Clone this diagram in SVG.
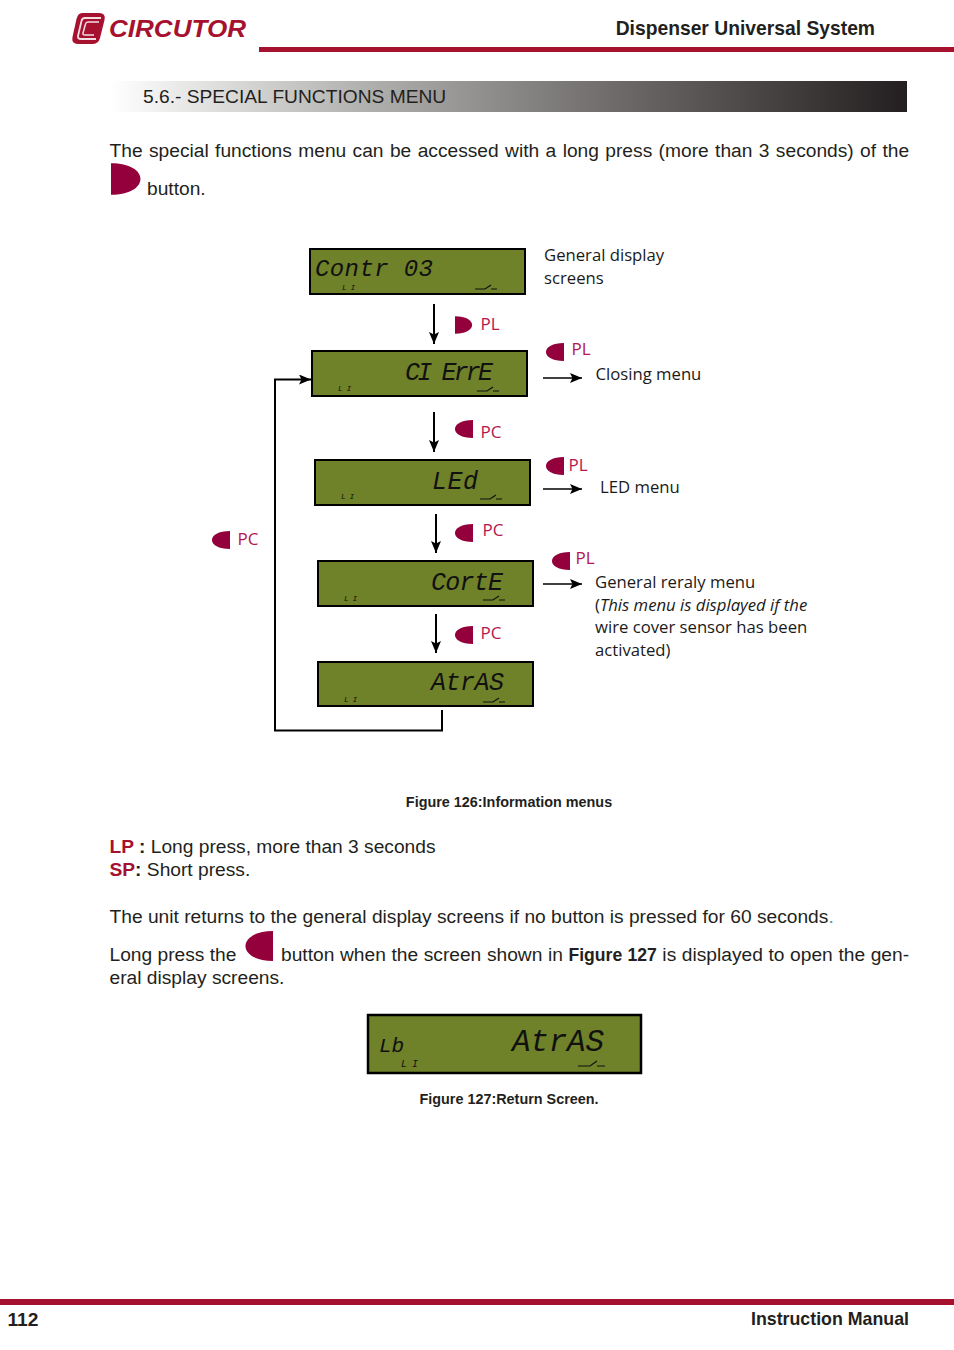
<svg xmlns="http://www.w3.org/2000/svg" width="954" height="1350" viewBox="0 0 954 1350">
<style>
.b{font-family:"Liberation Sans",Arial,sans-serif;font-size:19.2px;fill:#231f20}
.s{font-family:"Open Sans","Noto Sans",sans-serif;font-size:16.7px;fill:#1a1a1a}
.k{font-family:"Open Sans","Noto Sans",sans-serif;font-size:17px;fill:#b5174f}
.cap{font-family:"Liberation Sans",Arial,sans-serif;font-size:14.4px;font-weight:700;fill:#231f20}
.lcd{fill:#6f8129;stroke:#000;stroke-width:2}
.t{font-family:"Liberation Mono",monospace;font-style:italic;font-size:25px;fill:#111}
.m{font-family:"Liberation Mono",monospace;font-style:italic;font-size:8px;fill:#111;letter-spacing:-.5px}
.sw{fill:none;stroke:#111;stroke-width:1.2}
.l{fill:none;stroke:#000;stroke-width:2}
.cr{fill:#93003c}
.r{fill:#a6112f}
</style>
<defs>
<linearGradient id="g" x1="0" x2="1" y1="0" y2="0"><stop offset="0" stop-color="#fff"/><stop offset=".3" stop-color="#b5b5b3"/><stop offset=".65" stop-color="#6a6766"/><stop offset="1" stop-color="#231f20"/></linearGradient>
<marker id="a" markerUnits="userSpaceOnUse" markerWidth="14" markerHeight="12" refX="12" refY="5" orient="auto"><path d="M0 0L12 5L0 10L2.500 5Z" fill="#000"/></marker>
<path id="R" d="M0-15C12-15 19-8 19 0C19 8 12 15 0 15Z"/>
<path id="Lf" d="M0-15C-12-15-19-8-19 0C-19 8-12 15 0 15Z"/>
</defs>
<g id="header">
<g id="logo"><path d="M82 13H99Q106 13 104.500 20L100 38Q98.500 44 92 44H78Q71 44 72.500 37L76.500 19Q78 13 82 13Z" fill="#a6112f"/>
<path d="M101 18H85Q82 18 81.500 21L78 36Q77.500 39 81 39H96" fill="none" stroke="#f3dfe3" stroke-width="1.800"/><path d="M99 22H88Q86 22 85.500 24L83 33Q82.500 35 85 35H94" fill="none" stroke="#f3dfe3" stroke-width="1.500"/>
<text x="109" y="37" font-family="Liberation Sans,sans-serif" font-size="24" font-weight="700" font-style="italic" fill="#a6112f" textLength="137" lengthAdjust="spacingAndGlyphs">CIRCUTOR</text></g>
<rect x="259" y="47" width="695" height="5" class="r"/>
<text x="875" y="35" text-anchor="end" font-family="Liberation Sans,sans-serif" font-size="19.300" font-weight="700" fill="#231f20">Dispenser Universal System</text>
</g>
<g id="title"><rect x="110" y="81" width="797" height="31" fill="url(#g)"/>
<text x="143" y="103" class="b">5.6.- SPECIAL FUNCTIONS MENU</text></g>
<g id="intro">
<text x="109.500" y="157" class="b" style="word-spacing:1.050px">The special functions menu can be accessed with a long press (more than 3 seconds) of the</text>
<use href="#R" transform="translate(111 179) scale(1.550 1.050)" class="cr"/>
<text x="147" y="195" class="b">button.</text>
</g>
<g id="connectors">
<path class="l" d="M434 304V344" marker-end="url(#a)"/>
<path class="l" d="M434 412V452" marker-end="url(#a)"/>
<path class="l" d="M436 514V553" marker-end="url(#a)"/>
<path class="l" d="M436 614V653" marker-end="url(#a)"/>
<path class="l" d="M442 710V730.500H275V379.500H311" marker-end="url(#a)"/>
<path class="l" style="stroke-width:1.500" d="M543 378H582" marker-end="url(#a)"/>
<path class="l" style="stroke-width:1.500" d="M543 489H582" marker-end="url(#a)"/>
<path class="l" style="stroke-width:1.500" d="M543 584H582" marker-end="url(#a)"/>
</g>
<g id="lcd1"><rect x="310" y="249" width="215" height="45" class="lcd"/><text x="315" y="276" class="t" style="font-size:24px" textLength="118">Contr 03</text><text x="342" y="290" class="m">L I</text><path class="sw" d="M475 289H485L491 285M491 289H497"/></g>
<g id="lcd2"><rect x="312" y="351" width="215" height="45" class="lcd"/><text x="405" y="380" class="t" textLength="88">CI ErrE</text><text x="338" y="391" class="m">L I</text><path class="sw" d="M477 391H487L493 387M493 391H499"/></g>
<g id="lcd3"><rect x="315" y="460" width="215" height="45" class="lcd"/><text x="432" y="489" class="t" textLength="46">LEd</text><text x="341" y="499" class="m">L I</text><path class="sw" d="M480 499H490L496 495M496 499H502"/></g>
<g id="lcd4"><rect x="318" y="561" width="215" height="45" class="lcd"/><text x="431" y="590" class="t" textLength="72">CortE</text><text x="344" y="601" class="m">L I</text><path class="sw" d="M483 600H493L499 596M499 600H505"/></g>
<g id="lcd5"><rect x="318" y="662" width="215" height="44" class="lcd"/><text x="431" y="690" class="t" textLength="73">AtrAS</text><text x="344" y="702" class="m">L I</text><path class="sw" d="M483 702H493L499 698M499 702H505"/></g>
<g id="lcd6"><rect x="368" y="1015" width="273" height="58" class="lcd" style="stroke-width:2.500"/><text x="379" y="1052" class="t" style="font-size:21px" textLength="25">Lb</text><text x="512" y="1051" class="t" style="font-size:31px" textLength="92">AtrAS</text><text x="401" y="1067" class="m" style="font-size:10px">L I</text><path class="sw" d="M578 1066H590L597 1061M597 1066H605"/></g>
<g id="labels">
<use href="#R" transform="translate(455 325) scale(.9 .58)" class="cr"/><text x="480.500" y="330" class="k">PL</text>
<use href="#Lf" transform="translate(564 352) scale(.95 .6)" class="cr"/><text x="571.500" y="355" class="k">PL</text>
<text x="595.500" y="380" class="s">Closing menu</text>
<use href="#Lf" transform="translate(473 429) scale(.95 .6)" class="cr"/><text x="480.500" y="438" class="k">PC</text>
<use href="#Lf" transform="translate(564 466) scale(.95 .6)" class="cr"/><text x="568.500" y="471" class="k">PL</text>
<text x="600" y="493" class="s">LED menu</text>
<use href="#Lf" transform="translate(473 533) scale(.95 .6)" class="cr"/><text x="482.500" y="536" class="k">PC</text>
<use href="#Lf" transform="translate(570 561) scale(.95 .6)" class="cr"/><text x="575.500" y="564" class="k">PL</text>
<text x="595" y="588" class="s">General reraly menu</text>
<text x="595" y="611" class="s">(<tspan font-style="italic">This menu is displayed if the</tspan></text>
<text x="595" y="633" class="s">wire cover sensor has been</text>
<text x="595" y="656" class="s">activated)</text>
<use href="#Lf" transform="translate(473 635) scale(.95 .6)" class="cr"/><text x="480.500" y="639" class="k">PC</text>
<use href="#Lf" transform="translate(230 540) scale(.95 .6)" class="cr"/><text x="237.500" y="545" class="k">PC</text>
<text x="544" y="261" class="s">General display</text>
<text x="544" y="284" class="s">screens</text>
</g>
<text x="509" y="807" text-anchor="middle" class="cap">Figure 126:Information menus</text>
<g id="body">
<text x="109.500" y="853" class="b"><tspan font-weight="700" fill="#a6112f">LP</tspan><tspan font-weight="700"> :</tspan> Long press, more than 3 seconds</text>
<text x="109.500" y="876" class="b"><tspan font-weight="700" fill="#a6112f">SP</tspan><tspan font-weight="700">:</tspan> Short press.</text>
<text x="109.500" y="923" class="b">The unit returns to the general display screens if no button is pressed for 60 seconds<tspan fill="#3a9aa8">.</tspan></text>
<text x="109.500" y="961" class="b">Long press the</text>
<use href="#Lf" transform="translate(273 946) scale(1.450 1)" class="cr"/>
<text x="281" y="961" class="b" style="word-spacing:.27px">button when the screen shown in <tspan font-weight="700" style="font-size:17.600px">Figure 127</tspan> is displayed to open the gen-</text>
<text x="109.500" y="984" class="b">eral display screens.</text>
</g>
<text x="509" y="1104" text-anchor="middle" class="cap">Figure 127:Return Screen.</text>
<g id="footer"><rect x="0" y="1299" width="954" height="6" class="r"/>
<text x="7.500" y="1326" font-family="Liberation Sans,sans-serif" font-size="19.200" font-weight="700" fill="#231f20">112</text>
<text x="909" y="1325" text-anchor="end" font-family="Liberation Sans,sans-serif" font-size="17.800" font-weight="700" fill="#231f20">Instruction Manual</text></g>
</svg>
